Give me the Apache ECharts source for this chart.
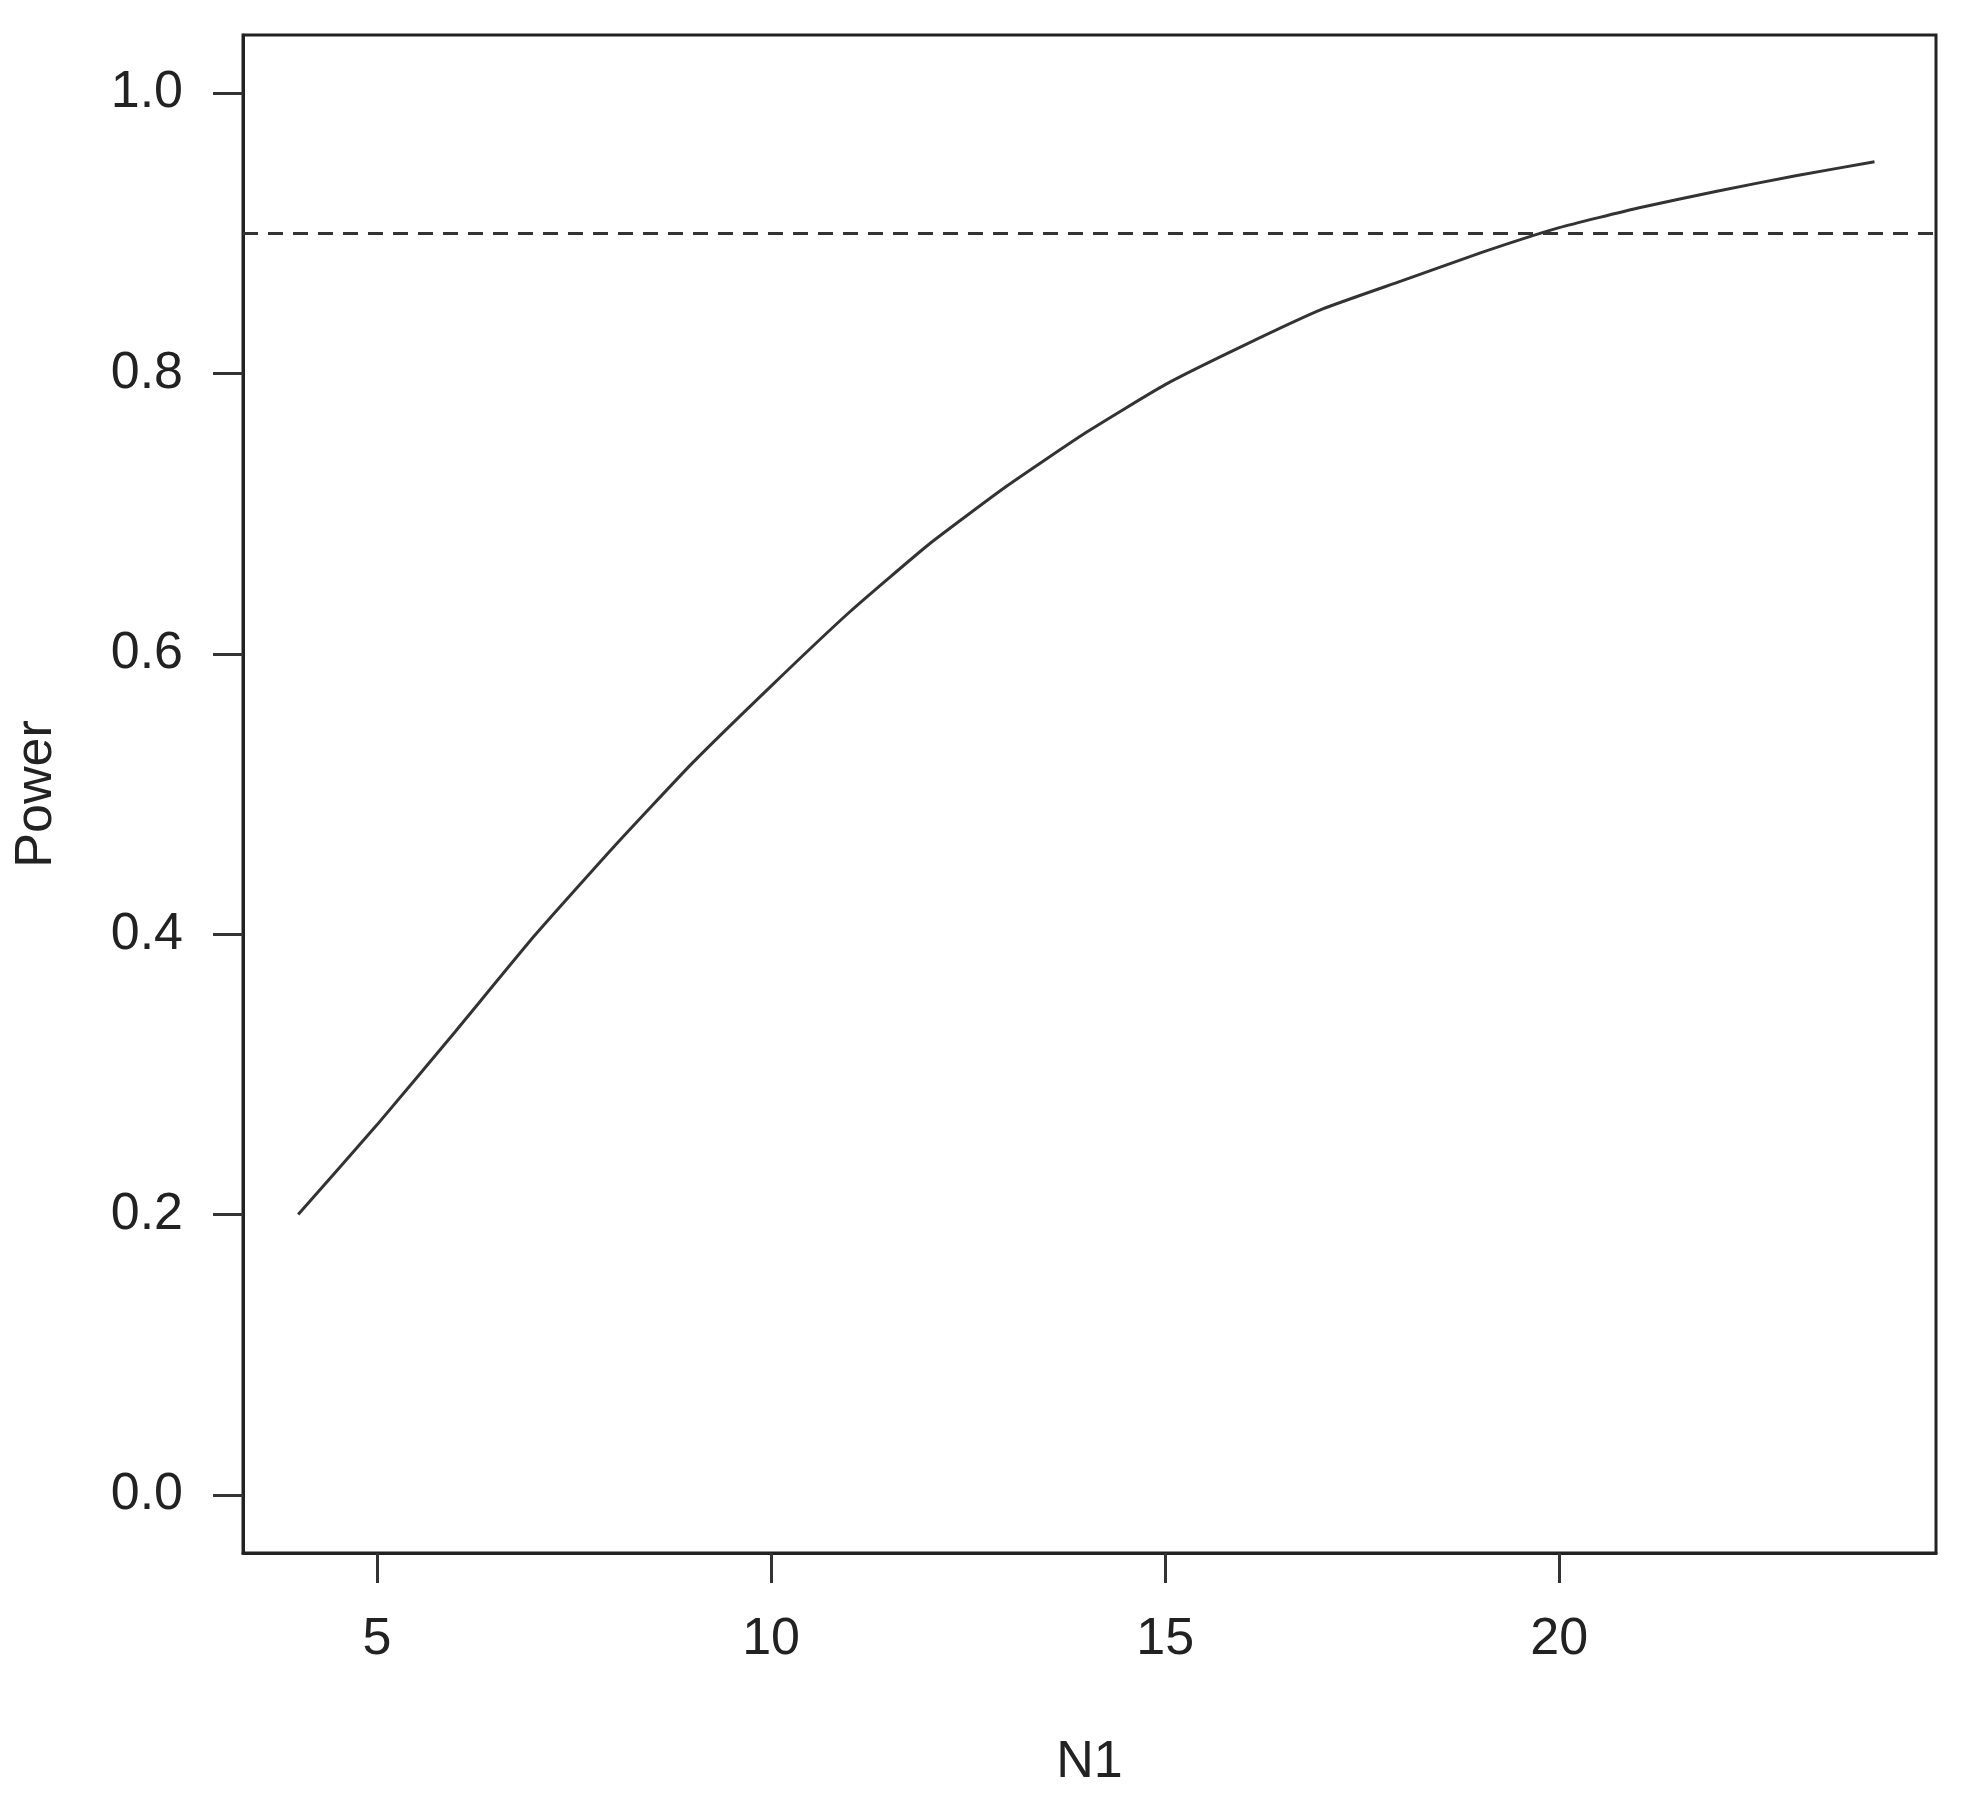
<!DOCTYPE html>
<html>
<head>
<meta charset="utf-8">
<script src="https://cdn.jsdelivr.net/npm/echarts@6/dist/echarts.min.js"></script>
<style>
  html, body { margin: 0; padding: 0; background: #fff; }
  #powerCurve { width: 1974px; height: 1805px; }
</style>
</head>
<body>
<div id="powerCurve"></div>
<script>
// sample size N1 and the power
const n1 = [4, 5, 6, 7, 8, 9, 10, 11, 12, 13, 14, 15, 16, 17, 18, 19, 20, 21, 22, 23, 24];
const power = [0.200, 0.264, 0.331, 0.399, 0.462, 0.522, 0.577, 0.630, 0.678, 0.720, 0.758,
  0.792, 0.820, 0.846, 0.866, 0.886, 0.904, 0.918, 0.930, 0.941, 0.951];
const targetPower = 0.9;
const xTicks = [5, 10, 15, 20];
const yTicks = [0, 0.2, 0.4, 0.6, 0.8, 1.0];

const textColor = '#222';
const fontFamily = '"Liberation Sans", Arial, sans-serif';

let chart = echarts.init(document.getElementById('powerCurve'), null, {width: 1974, height: 1805});

let option = {
  backgroundColor: '#fff',
  animation: false,
  grid: {
    left: 243, right: 38, top: 35, bottom: 252,
    show: true,
    borderColor: '#222',
    borderWidth: 3,
    backgroundColor: 'transparent'
  },
  xAxis: {
    type: 'value',
    min: 3.3,
    max: 24.78,
    name: 'N1',
    nameLocation: 'middle',
    nameGap: 184,
    nameTextStyle: {fontSize: 52, color: textColor, fontFamily: fontFamily},
    splitLine: {show: false},
    axisLine: {show: true, onZero: false, lineStyle: {color: '#222', width: 3}},
    axisTick: {
      show: true, inside: false, length: 30,
      customValues: xTicks,
      lineStyle: {color: '#333', width: 3}
    },
    axisLabel: {
      customValues: xTicks,
      margin: 61,
      fontSize: 52,
      color: textColor,
      fontFamily: fontFamily
    }
  },
  yAxis: {
    type: 'value',
    min: -0.0414,
    max: 1.0414,
    name: 'Power',
    nameLocation: 'middle',
    nameGap: 180,
    nameTextStyle: {fontSize: 52, color: textColor, fontFamily: fontFamily},
    splitLine: {show: false},
    axisLine: {show: true, onZero: false, lineStyle: {color: '#222', width: 3}},
    axisTick: {
      show: true, inside: false, length: 30,
      customValues: yTicks,
      lineStyle: {color: '#333', width: 3}
    },
    axisLabel: {
      customValues: yTicks,
      margin: 60,
      fontSize: 52,
      color: textColor,
      fontFamily: fontFamily,
      formatter: function (value) {
        return value.toFixed(1);
      }
    }
  },
  series: [
    {
      type: 'line',
      data: n1.map((n, i) => [n, power[i]]),
      symbol: 'none',
      smooth: 0.15,
      lineStyle: {color: '#333', width: 3},
      markLine: {
        silent: true,
        symbol: 'none',
        label: {show: false},
        lineStyle: {color: '#333', width: 3, type: [15, 10]},
        data: [{yAxis: targetPower}]
      }
    }
  ]
};

chart.setOption(option);
</script>
</body>
</html>
